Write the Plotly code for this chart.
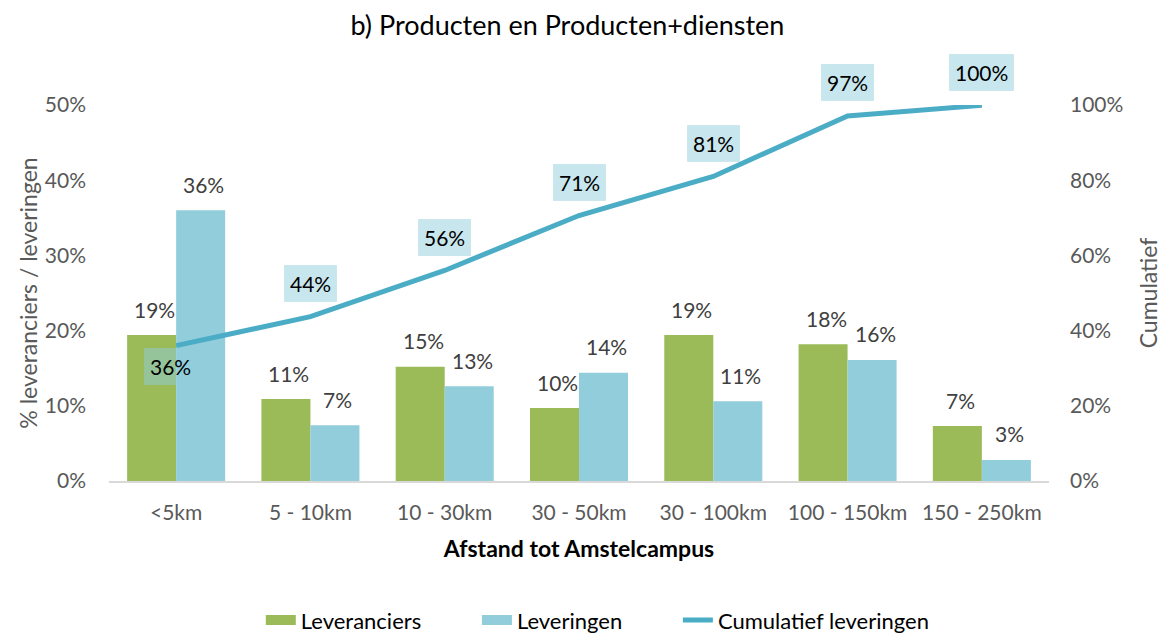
import plotly.graph_objects as go

# categorieën en waarden
afstanden = ["<5km", "5 - 10km", "10 - 30km", "30 - 50km", "30 - 100km", "100 - 150km", "150 - 250km"]
leveranciers = [0.194, 0.109, 0.152, 0.097, 0.194, 0.182, 0.073]
leveringen = [0.360, 0.074, 0.126, 0.144, 0.106, 0.161, 0.028]
cumulatief = [0.360, 0.437, 0.560, 0.706, 0.810, 0.971, 0.999]

groen = "#9BBB59"
blauw = "#92CDDC"
lijn = "#4BACC6"
lettertype = "Lato"
ruimte = "\u00a0" * 9

fig = go.Figure()

fig.add_trace(go.Bar(
    x=afstanden, y=leveranciers, name="Leveranciers", showlegend=False,
    marker=dict(color=groen, line=dict(width=0)),
))
fig.add_trace(go.Bar(
    x=afstanden, y=leveringen, name="Leveringen", showlegend=False,
    marker=dict(color=blauw, line=dict(width=0)),
))
fig.add_trace(go.Scatter(
    x=afstanden, y=cumulatief, name="Cumulatief leveringen", showlegend=False,
    mode="lines", line=dict(color=lijn, width=5),
    yaxis="y2", cliponaxis=False,
))

# legenda-items met brede rechthoekige symbolen zoals in Excel
for naam, kleur, dikte in [("Leveranciers" + ruimte, groen, 14), ("Leveringen" + ruimte, blauw, 14),
                           ("Cumulatief leveringen", lijn, 5)]:
    fig.add_trace(go.Scatter(x=[None], y=[None], name=naam, mode="lines",
                             line=dict(color=kleur, width=dikte)))

# waardelabels boven de staven
for reeks, verschuiving in [(leveranciers, -24.5), (leveringen, 24.5)]:
    for cat, v in zip(afstanden, reeks):
        fig.add_annotation(
            x=cat, y=v, xref="x", yref="y", text=f"{v:.0%}", showarrow=False,
            xshift=verschuiving + 3, yshift=26,
            font=dict(size=21, color="#404040", family=lettertype),
        )

# labels bij de cumulatieve lijn
for i, (cat, v) in enumerate(zip(afstanden, cumulatief)):
    fig.add_annotation(
        x=cat, y=v, xref="x", yref="y2",
        text=f"{v:.0%}", showarrow=False,
        yshift=-21 if i == 0 else 33,
        xshift=-6 if i == 0 else 0,
        font=dict(size=21, color="#000000", family=lettertype),
        bgcolor="rgba(146,205,220,0.5)",
        bordercolor="rgba(146,205,220,0.3)", borderwidth=1, borderpad=5,
    )

fig.update_layout(
    width=1168, height=637,
    margin=dict(l=101, r=127, t=97, b=164, autoexpand=False),
    paper_bgcolor="white", plot_bgcolor="white",
    font=dict(family=lettertype, size=21, color="#595959"),
    title=dict(text="b) Producten en Producten+diensten", x=0.479, xanchor="center",
               y=0.972, yanchor="middle", font=dict(size=27, color="#000000")),
    barmode="group", bargap=0.27, bargroupgap=0,
    xaxis=dict(
        showline=True, linecolor="#D9D9D9", linewidth=2, ticks="",
        ticklabelstandoff=12,
        tickfont=dict(size=21, color="#595959"),
        title=dict(text="<b>Afstand tot Amstelcampus</b>", standoff=18,
                   font=dict(size=23, color="#000000")),
    ),
    yaxis=dict(
        range=[0, 0.5], tickvals=[0, 0.1, 0.2, 0.3, 0.4, 0.5], tickformat=".0%",
        showgrid=False, zeroline=False, ticks="", ticklabelstandoff=22,
        tickfont=dict(size=21, color="#595959"),
        title=dict(text="% leveranciers / leveringen", standoff=0,
                   font=dict(size=23, color="#595959")),
    ),
    yaxis2=dict(
        range=[0, 1], tickvals=[0, 0.2, 0.4, 0.6, 0.8, 1.0], tickformat=".0%",
        overlaying="y", side="right", showgrid=False, zeroline=False, ticks="",
        ticklabelstandoff=20,
        tickfont=dict(size=21, color="#595959"),
        title=dict(text="Cumulatief", standoff=18,
                   font=dict(size=23, color="#595959")),
    ),
    legend=dict(
        orientation="h", x=0.52, xanchor="center", y=-0.37, yanchor="middle",
        font=dict(size=22, color="#000000"), traceorder="normal",
        itemwidth=30,
    ),
)

fig.write_html("out.html")
